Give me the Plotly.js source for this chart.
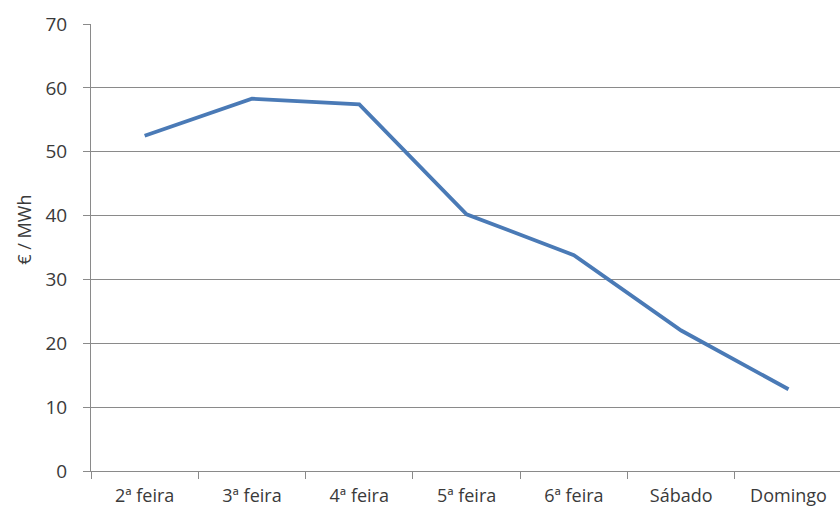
<!DOCTYPE html>
<html>
<head>
<meta charset="utf-8">
<script src="https://cdn.plot.ly/plotly-3.0.1.min.js"></script>
<style>
  html, body { margin: 0; padding: 0; background: #ffffff; }
  #chart { width: 840px; height: 517px; }
</style>
</head>
<body>
<div id="chart"></div>
<script>
// Average price per weekday
const days = ['2ª feira', '3ª feira', '4ª feira', '5ª feira', '6ª feira', 'Sábado', 'Domingo'];
const prices = [52.5, 58.3, 57.4, 40.2, 33.8, 22.0, 12.8];
const yTicks = [0, 10, 20, 30, 40, 50, 60, 70];

const axisGray = '#8a8a8a';
const textGray = '#3a3a3a';
const font = 'Open Sans, Liberation Sans, sans-serif';

const trace = {
  x: days,
  y: prices,
  type: 'scatter',
  mode: 'lines',
  line: { color: '#4a7ab6', width: 3.8 },
  hoverinfo: 'skip'
};

const layout = {
  width: 840,
  height: 517,
  margin: { l: 91, r: 0, t: 24, b: 46 },
  paper_bgcolor: '#ffffff',
  plot_bgcolor: '#ffffff',
  showlegend: false,
  font: { family: font, size: 18, color: textGray },
  xaxis: {
    type: 'category',
    range: [-0.5, 6.48],
    tickson: 'boundaries',
    ticks: 'outside',
    ticklen: 7,
    tickcolor: axisGray,
    showgrid: false,
    showline: true,
    linecolor: axisGray,
    linewidth: 1,
    zeroline: false,
    tickangle: 0,
    tickfont: { family: font, size: 18, color: textGray },
    ticklabelstandoff: 8
  },
  yaxis: {
    range: [0, 70],
    tickvals: yTicks,
    ticktext: yTicks.map(String),
    ticks: 'outside',
    ticklen: 7,
    tickcolor: axisGray,
    showgrid: true,
    gridcolor: axisGray,
    gridwidth: 1,
    showline: true,
    linecolor: axisGray,
    linewidth: 1,
    zeroline: false,
    tickfont: { family: font, size: 19, color: textGray },
    ticklabelstandoff: 12
  },
  annotations: [{
    text: '€ / MWh',
    textangle: -90,
    xref: 'paper',
    yref: 'paper',
    x: -0.09,
    y: 0.539,
    xanchor: 'center',
    yanchor: 'middle',
    showarrow: false,
    font: { family: font, size: 18, color: textGray }
  }]
};

Plotly.newPlot('chart', [trace], layout, { displayModeBar: false, staticPlot: true });
</script>
</body>
</html>
